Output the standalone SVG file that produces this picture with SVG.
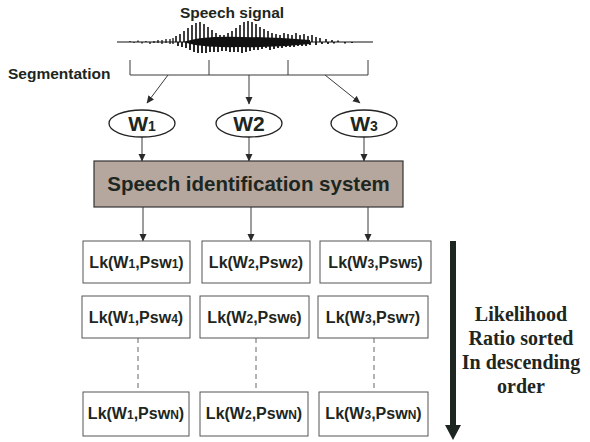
<svg xmlns="http://www.w3.org/2000/svg" width="590" height="442" viewBox="0 0 590 442">
<defs>
<marker id="ah" markerWidth="8" markerHeight="8" refX="7" refY="4" orient="auto" markerUnits="userSpaceOnUse">
<path d="M0,0.5 L7.5,4 L0,7.5 Z" fill="#2a2a2a"/>
</marker>
<style>
.t{font-family:"Liberation Sans",Arial,sans-serif;font-weight:bold;fill:#1d2621}
.s{font-family:"Liberation Serif","Times New Roman",serif;font-weight:bold;fill:#1d2621;font-size:20px}
.ln{stroke:#3a3a3a;stroke-width:1;fill:none}
.box{fill:#fff;stroke:#555;stroke-width:1}
.dash{stroke:#666;stroke-width:1;stroke-dasharray:5,4;fill:none}
.bt{font-size:16px}
.sub{font-size:12px}
</style>
</defs>
<rect width="590" height="442" fill="#fff"/>
<text class="t" x="232" y="18" font-size="15.5" text-anchor="middle">Speech signal</text>
<g id="waveform" stroke="#111" fill="none">
<path d="M117 42 H373" stroke-width="1"/>
<path d="M130 42v-1M134 42v1M138 42v-1.5M142 42v1.5M146 42v-1M150 42v2M154 41v2M158 40v3M162 40v4M166 39v4M170 39v5M173 38v6" stroke-width="1.3"/>
<path d="M176 42V36M180 42V34M184 42V31M188 42V28M192 42V25M196 42V23M200 42V22M204 42V24M208 42V27M212 42V30M216 42V33M220 42V35M224 42V35M228 42V33M232 42V31M236 42V28M240 42V25M244 42V22M248 42V21M252 42V22M256 42V24M260 42V27M264 42V29M268 42V31M272 42V33M276 42V34M280 42V35M284 42V33M288 42V34M292 42V35M296 42V33M300 42V35M304 42V34M308 42V36M312 42V35M316 42V37M320 42V38M326 42V39M332 42V40M338 42V40.5" stroke-width="1.6"/>
<path d="M178 42V46M182 42V47M186 42V48M190 42V50M194 42V52M198 42V53M202 42V53M206 42V53M210 42V52M214 42V52M218 42V52M222 42V51M226 42V51M230 42V52M234 42V52M238 42V52M242 42V53M246 42V52M250 42V51M254 42V50M258 42V50M262 42V49M266 42V48M270 42V50M274 42V49M278 42V48M282 42V48M286 42V47M290 42V47M294 42V47M298 42V46M302 42V46M306 42V46M310 42V45M316 42V45M322 42V44M328 42V44M334 42V43.5M345 42V43.5M352 42V43" stroke-width="1.8"/>
<path d="M184 42 Q200 36 240 37 Q275 37 310 40 L310 44 Q275 48 240 47 Q200 48 184 42 Z" fill="#111" stroke="none"/>
</g>
<text class="t" x="8" y="79" font-size="15.5">Segmentation</text>
<g id="bracket" class="ln" stroke-width="1.2">
<path d="M130 60 V75 H368 V60 M209 60 V75 M288 60 V75"/>
</g>
<g id="connectors" class="ln">
<line x1="168" y1="75" x2="147" y2="103" marker-end="url(#ah)"/>
<line x1="249" y1="75" x2="249" y2="104" marker-end="url(#ah)"/>
<line x1="325" y1="75" x2="360" y2="103" marker-end="url(#ah)"/>
<line x1="142" y1="137" x2="142" y2="161" marker-end="url(#ah)"/>
<line x1="249" y1="137" x2="249" y2="161" marker-end="url(#ah)"/>
<line x1="364" y1="137" x2="364" y2="161" marker-end="url(#ah)"/>
<line x1="143" y1="207" x2="143" y2="241" marker-end="url(#ah)"/>
<line x1="251" y1="207" x2="251" y2="241" marker-end="url(#ah)"/>
<line x1="368" y1="207" x2="368" y2="241" marker-end="url(#ah)"/>
<line class="dash" x1="138" y1="338" x2="138" y2="392"/>
<line class="dash" x1="256" y1="338" x2="256" y2="392"/>
<line class="dash" x1="374" y1="338" x2="374" y2="392"/>
</g>
<g id="w1"><ellipse cx="142" cy="123.5" rx="33" ry="13.5" fill="#fff" stroke="#222" stroke-width="1.3"/><text class="t" x="142" y="131" font-size="21" text-anchor="middle">W<tspan font-size="14">1</tspan></text></g>
<g id="w2"><ellipse cx="249" cy="123.5" rx="33" ry="13.5" fill="#fff" stroke="#222" stroke-width="1.3"/><text class="t" x="249" y="131" font-size="21" text-anchor="middle">W2</text></g>
<g id="w3"><ellipse cx="364" cy="123.5" rx="33" ry="13.5" fill="#fff" stroke="#222" stroke-width="1.3"/><text class="t" x="364" y="131" font-size="21" text-anchor="middle">W<tspan font-size="14">3</tspan></text></g>
<g id="sis"><rect x="94" y="161" width="309" height="46" fill="#b5a79d" stroke="#333" stroke-width="1.2"/><text class="t" x="248.5" y="191" font-size="20.5" text-anchor="middle">Speech identification system</text></g>
<g id="r1c1"><rect class="box" x="83" y="241" width="107" height="42"/><text class="t bt" x="136.5" y="268" text-anchor="middle">Lk(W<tspan class="sub">1</tspan>,Psw<tspan class="sub">1</tspan>)</text></g>
<g id="r1c2"><rect class="box" x="202" y="241" width="108" height="42"/><text class="t bt" x="256" y="268" text-anchor="middle">Lk(W<tspan class="sub">2</tspan>,Psw<tspan class="sub">2</tspan>)</text></g>
<g id="r1c3"><rect class="box" x="320" y="241" width="111" height="42"/><text class="t bt" x="375.5" y="268" text-anchor="middle">Lk(W<tspan class="sub">3</tspan>,Psw<tspan class="sub">5</tspan>)</text></g>
<g id="r2c1"><rect class="box" x="82" y="296" width="108" height="42"/><text class="t bt" x="136" y="323" text-anchor="middle">Lk(W<tspan class="sub">1</tspan>,Psw<tspan class="sub">4</tspan>)</text></g>
<g id="r2c2"><rect class="box" x="200" y="296" width="109" height="42"/><text class="t bt" x="254.5" y="323" text-anchor="middle">Lk(W<tspan class="sub">2</tspan>,Psw<tspan class="sub">6</tspan>)</text></g>
<g id="r2c3"><rect class="box" x="318" y="296" width="110" height="42"/><text class="t bt" x="373" y="323" text-anchor="middle">Lk(W<tspan class="sub">3</tspan>,Psw<tspan class="sub">7</tspan>)</text></g>
<g id="r3c1"><rect class="box" x="83" y="392" width="106" height="44"/><text class="t bt" x="136" y="419" text-anchor="middle">Lk(W<tspan class="sub">1</tspan>,Psw<tspan class="sub">N</tspan>)</text></g>
<g id="r3c2"><rect class="box" x="200" y="392" width="108" height="44"/><text class="t bt" x="254" y="419" text-anchor="middle">Lk(W<tspan class="sub">2</tspan>,Psw<tspan class="sub">N</tspan>)</text></g>
<g id="r3c3"><rect class="box" x="319" y="392" width="109" height="44"/><text class="t bt" x="373.5" y="419" text-anchor="middle">Lk(W<tspan class="sub">3</tspan>,Psw<tspan class="sub">N</tspan>)</text></g>
<g id="sortarrow"><rect x="450" y="241" width="6" height="185" fill="#1d2621"/><path d="M445 425 H461 L453 440 Z" fill="#1d2621"/></g>
<g id="label"><text class="s" text-anchor="middle"><tspan x="521" y="321">Likelihood</tspan><tspan x="521" y="345">Ratio sorted</tspan><tspan x="521" y="369">In descending</tspan><tspan x="521" y="393">order</tspan></text></g>
</svg>
